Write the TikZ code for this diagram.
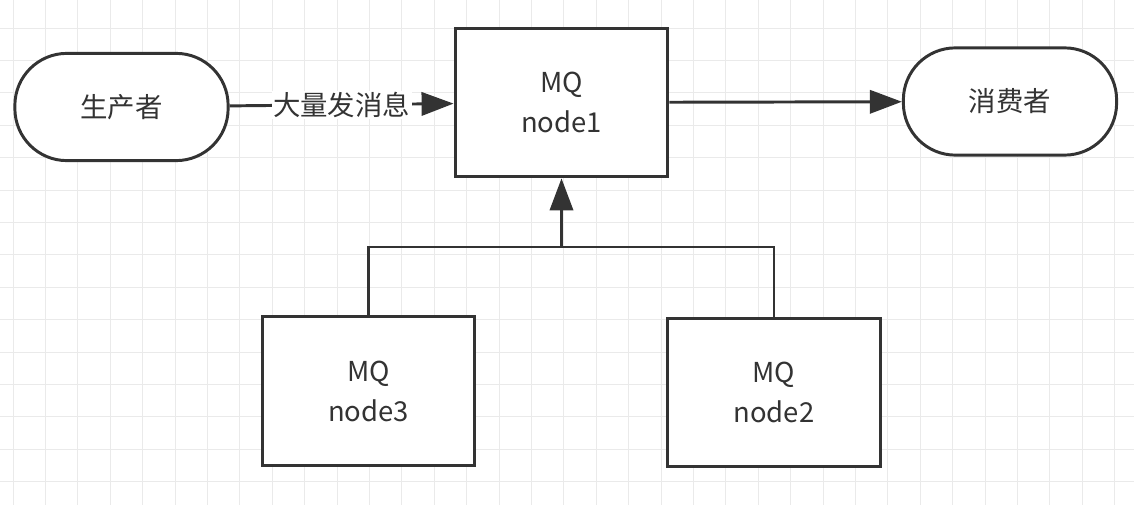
\documentclass[tikz,border=0pt]{standalone}
\usepackage{fontspec}
\setmainfont{Noto Sans CJK SC}
\usetikzlibrary{arrows.meta}
\definecolor{inkgray}{HTML}{333333}
\definecolor{gridgray}{HTML}{EAEAEA}

\begin{document}
\begin{tikzpicture}[x=0.025cm, y=-0.025cm, >={Triangle[length=8mm,width=5.8mm]},
    every node/.style={text=inkgray, font=\fontsize{19.5}{28.5}\selectfont},
    mqbox/.style={draw=inkgray, line width=2.1pt, fill=white, align=center,
        minimum width=5.32cm, minimum height=3.72cm},
    endpoint/.style={draw=inkgray, line width=2.1pt, fill=white, rounded corners=1.3cm,
        minimum width=5.33cm, minimum height=2.68cm},
    link/.style={draw=inkgray, line width=2.1pt}]
        % ==== BACKGROUND AND GRID ====
        \useasboundingbox (0,0) rectangle (1134,505);
        \fill[white] (0,0) rectangle (1134,505);
        \foreach \i in {0,...,34}
            \draw[gridgray, line width=0.6pt] ({13+32.4*\i},0) -- ++(0,505);
        \foreach \j in {0,...,14}
            \draw[gridgray, line width=0.6pt] (0,{28+32.4*\j}) -- ++(1134,0);
        % ==== NODES ====
        \node[endpoint] (producer) at (121.5,107) {生产者};
        \node[mqbox] (node1) at (561.5,102.5) {MQ\\node1};
        \node[endpoint] (consumer) at (1010,101.5) {消费者};
        \node[mqbox] (node3) at (368.5,391) {MQ\\node3};
        \node[mqbox] (node2) at (774,392.5) {MQ\\node2};
        \coordinate (join) at (561.5,247);
        % ==== CONNECTORS ====
        \draw[link, ->] (producer) -- node[fill=white, inner sep=1pt] (sendlabel) {大量发消息} (node1);
        \draw[link, ->] (node1) -- (consumer);
        \draw[link] (node3.north) |- (join) -| (node2.north);
        \draw[link, ->] (join) -- (node1.south);
\end{tikzpicture}
\end{document}
